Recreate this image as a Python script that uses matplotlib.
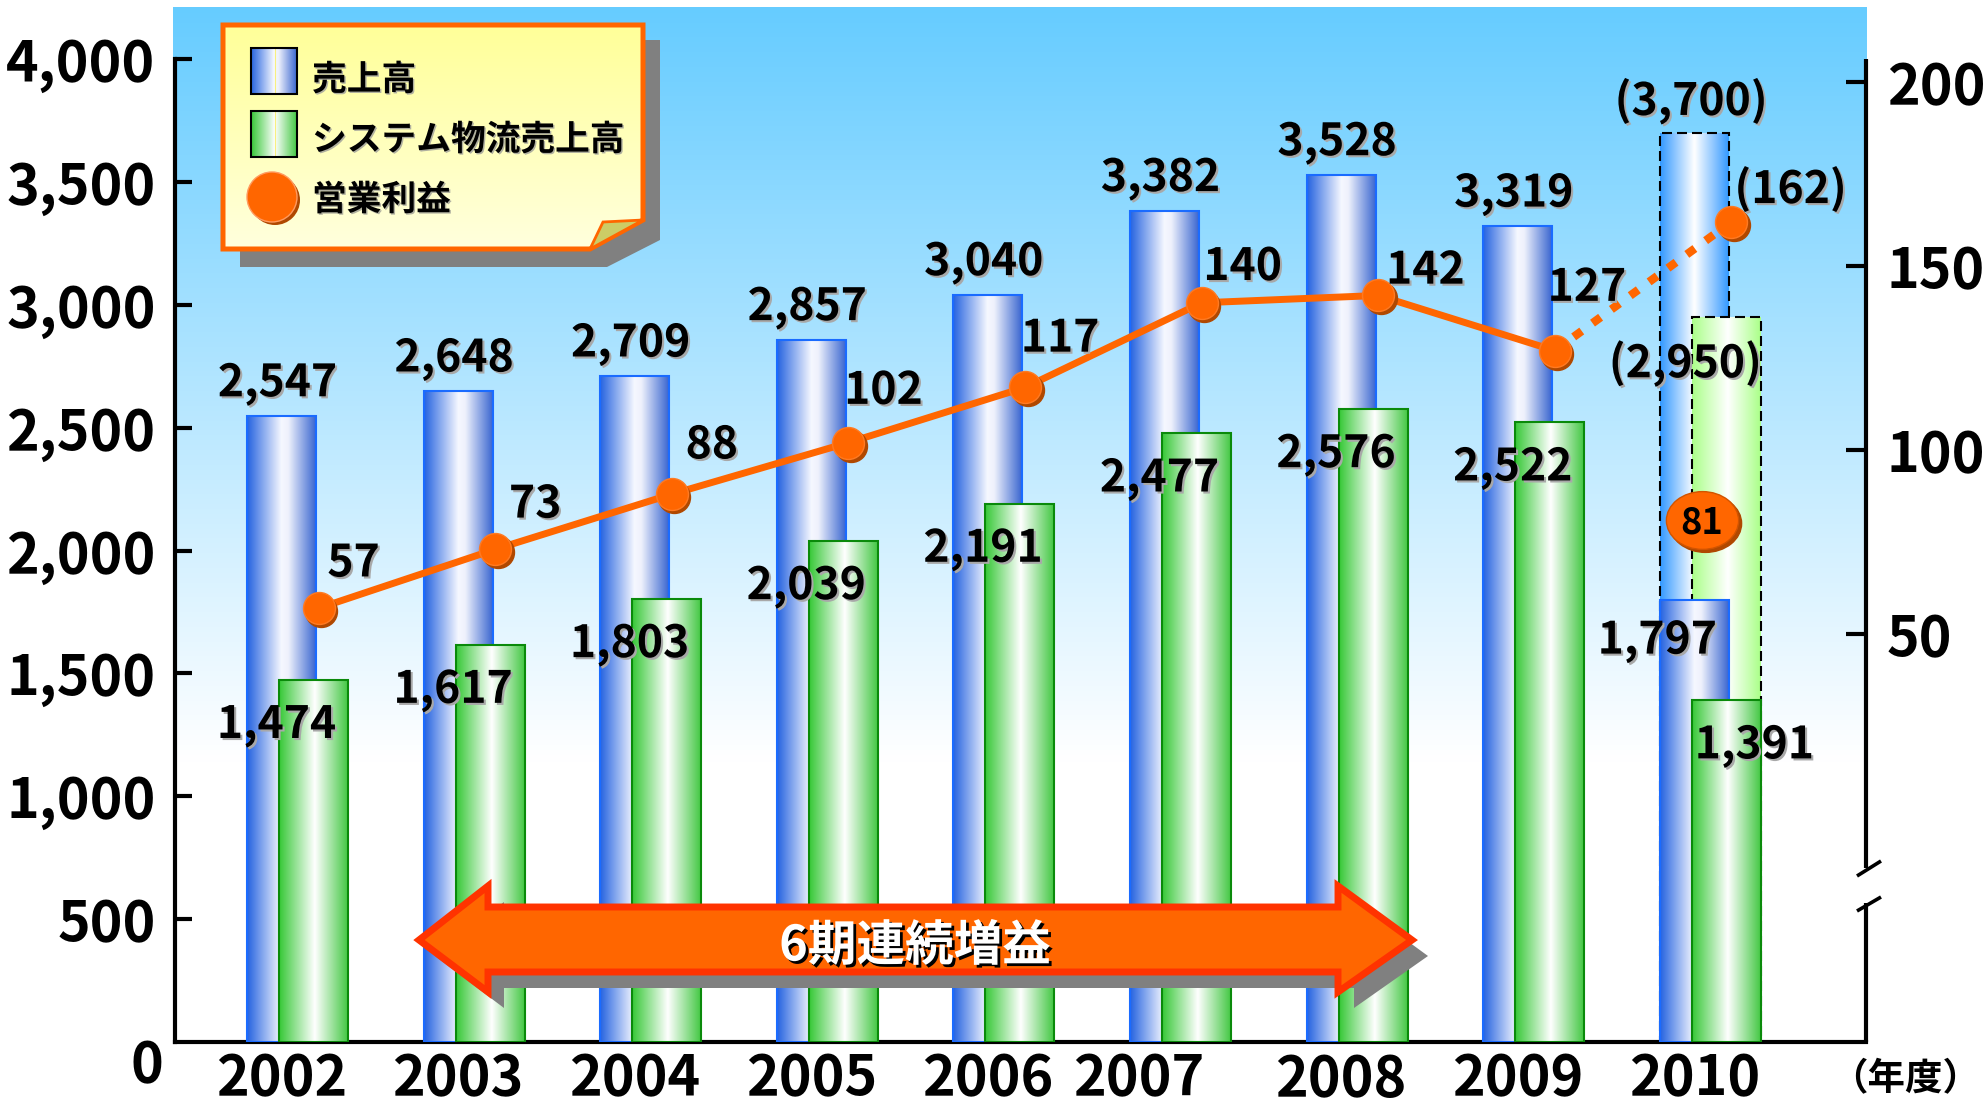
import numpy as np
import matplotlib
matplotlib.use('Agg')
import matplotlib.pyplot as plt
from matplotlib.patches import Rectangle, Polygon, Circle
from matplotlib.colors import LinearSegmentedColormap, to_rgb
from matplotlib.lines import Line2D
from matplotlib.path import Path
import matplotlib.patheffects as pe
import matplotlib.transforms as mtrans

plt.rcParams['font.family'] = ['Noto Sans CJK JP', 'DejaVu Sans']
plt.rcParams['font.weight'] = 'bold'

# ---------------- data ----------------
years = ['2002', '2003', '2004', '2005', '2006', '2007', '2008', '2009', '2010']
sales = [2547, 2648, 2709, 2857, 3040, 3382, 3528, 3319, 1797]
system_sales = [1474, 1617, 1803, 2039, 2191, 2477, 2576, 2522, 1391]
profit = [57, 73, 88, 102, 117, 140, 142, 127]          # 2002-2009
forecast_year = '2010'
sales_forecast = 3700
system_forecast = 2950
profit_forecast = 162
profit_interim = 81
left_ticks = [500, 1000, 1500, 2000, 2500, 3000, 3500, 4000]
right_ticks = [50, 100, 150, 200]
legend_labels = ['売上高', 'システム物流売上高', '営業利益']
arrow_label = '6期連続増益'
unit_label = '（年度）'

# label offsets (pixels, centre of text relative to the point)
profit_label_offsets = [(35, 48), (40, 48), (40, 52), (35, 55), (35, 52),
                        (41, 39), (47, 28), (32, 66)]

# ---------------- figure ----------------
W, H, DPI = 1986, 1104, 100
fig = plt.figure(figsize=(W / DPI, H / DPI), dpi=DPI)
fig.patch.set_facecolor('white')
AX_L, AX_R, AX_T, AX_B = 175, 1866, 59, 1042

# background gradient panel
bg = fig.add_axes([0, 0, 1, 1], zorder=0)
top_c = np.array(to_rgb('#66CCFF'))
ys = np.linspace(7, AX_B, 500)
t = np.clip((ys - 7) / (760 - 7), 0, 1)[:, None]
cols = top_c * (1 - t) + t
bg.imshow(cols[:, None, :], extent=(173, AX_R + 1, AX_B, 7), aspect='auto',
          interpolation='bilinear', origin='upper')
bg.set_xlim(0, W); bg.set_ylim(H, 0); bg.axis('off')

ax = fig.add_axes([AX_L / W, 1 - AX_B / H, (AX_R - AX_L) / W, (AX_B - AX_T) / H], zorder=1)
ax.patch.set_visible(False)

idx = np.arange(len(years))
fi = years.index(forecast_year)
BW = 0.39
GOFF = 0.181

BLUE = [(0, '#2563E0'), (0.5, '#F6F8FF'), (0.6, '#EEF1FC'), (1, '#3A66D0')]
GREEN = [(0, '#36C836'), (0.52, '#FFFFFF'), (1, '#44C844')]
BLUE_L = [(0, '#3399FF'), (0.5, '#FFFFFF'), (1, '#3399FF')]
GREEN_L = [(0, '#AAFF88'), (0.52, '#FFFFFF'), (1, '#AAFF88')]


def grad_fill(axis, patch, stops, z):
    bb = patch.get_bbox()
    cmap = LinearSegmentedColormap.from_list('g', stops)
    im = axis.imshow(np.linspace(0, 1, 256)[None, :], cmap=cmap,
                     extent=(bb.x0, bb.x1, bb.y0, bb.y1), aspect='auto',
                     origin='lower', interpolation='bilinear', zorder=z)
    im.set_clip_path(patch)
    patch.set_facecolor('none')
    patch.set_zorder(z + 0.01)


dash = (0, (4.8, 2.4))
fb = ax.bar(idx[fi], sales_forecast, width=BW, edgecolor='black', linewidth=1.5, linestyle=dash)
for p in fb:
    grad_fill(ax, p, BLUE_L, 2)
fg = ax.bar(idx[fi] + GOFF, system_forecast, width=BW, edgecolor='black', linewidth=1.5, linestyle=dash)
for p in fg:
    grad_fill(ax, p, GREEN_L, 2.5)
bb_ = ax.bar(idx, sales, width=BW, edgecolor='#1A6BFF', linewidth=1.5)
for p in bb_:
    grad_fill(ax, p, BLUE, 3)
gb_ = ax.bar(idx + GOFF, system_sales, width=BW, edgecolor='#0A8A0A', linewidth=1.5)
for p in gb_:
    grad_fill(ax, p, GREEN, 4)

ax.set_xlim(-0.603, 8.972)
ax.set_ylim(0, 4000)

shadow_fx = [pe.SimplePatchShadow(offset=(1.5, -1.5), shadow_rgbFace='#A8A8A8', alpha=1), pe.Normal()]


def label(axis, x, y, s, dx, dy, size=32, color='black', fx=shadow_fx, z=8, xycoords='data'):
    em = size * DPI / 72
    tt = axis.annotate(s, xy=(x, y), xycoords=xycoords, xytext=(dx, dy - 0.365 * em),
                       textcoords='offset pixels', ha='center', va='baseline',
                       fontsize=size, color=color, zorder=z, annotation_clip=False)
    if fx:
        tt.set_path_effects(fx)
    return tt


for i in idx:
    if i == fi:
        continue
    label(ax, idx[i], sales[i], f'{sales[i]:,}', -4, 36)
    label(ax, idx[i], system_sales[i], f'{system_sales[i]:,}', -5, -42)
label(ax, idx[fi], sales_forecast, f'({sales_forecast:,})', -3, 34)
label(ax, idx[fi], system_forecast, f'({system_forecast:,})', -9, -44)
label(ax, idx[fi], sales[fi], f'{sales[fi]:,}', -37, -37)
label(ax, idx[fi] + GOFF, system_sales[fi], f'{system_sales[fi]:,}', 28, -42)

# axes styling (left)
ax.set_yticks(left_ticks)
ax.set_yticklabels([f'{v:,}' for v in left_ticks])
ax.tick_params(axis='y', direction='in', length=12, width=3, labelsize=40, pad=14)
ax.set_xticks(idx)
ax.set_xticklabels(years)
ax.tick_params(axis='x', length=0, labelsize=40, pad=7)
lab7 = ax.get_xticklabels()[5]
lab7.set_transform(lab7.get_transform() + mtrans.Affine2D().translate(-26, 0))
for s in ['top', 'right']:
    ax.spines[s].set_visible(False)
for s in ['left', 'bottom']:
    ax.spines[s].set_linewidth(3)
label(ax, 0, 0, '0', -28, -20, size=40, fx=None, xycoords=ax.get_yaxis_transform())
ax.text((1905 - AX_L) / (AX_R - AX_L), (AX_B - 1079) / (AX_B - AX_T), unit_label,
        transform=ax.transAxes, ha='center', va='center', fontsize=27)

# ---------------- profit (right axis) ----------------
ax2 = ax.twinx()
ax2.set_zorder(2)
ax2.patch.set_visible(False)
ax2.set_ylim(-60.87, 206.25)
for s in ax2.spines.values():
    s.set_visible(False)
ax2.set_yticks(right_ticks)
ax2.tick_params(axis='y', direction='in', length=14.4, width=3, labelsize=40, pad=15)

PX = 0.21
px = idx[:len(profit)] + PX
ax2.plot(px, profit, color='#FF6600', lw=5, zorder=3, solid_capstyle='round')
ax2.plot([px[-1], idx[fi] + PX], [profit[-1], profit_forecast], color='#FF6600', lw=6,
         linestyle=(0, (1.2, 1.6)), dash_capstyle='butt', zorder=3)
shadow_tr = mtrans.offset_copy(ax2.transData, fig=fig, x=2.5, y=-3, units='dots')
allx = list(px) + [idx[fi] + PX]
ally = profit + [profit_forecast]
ax2.plot(allx, ally, 'o', ms=23, color='#B04800', transform=shadow_tr, zorder=4)
ax2.plot(allx, ally, 'o', ms=23, color='#FF6600', mec='#FF7A22', mew=1, zorder=5)

ell = Path.unit_circle().transformed(mtrans.Affine2D().scale(1, 0.8))
ax2.plot([idx[fi] + 0.044], [profit_interim], marker=ell, ms=52, color='#B04800',
         transform=shadow_tr, ls='none', zorder=4)
ax2.plot([idx[fi] + 0.044], [profit_interim], marker=ell, ms=52, mfc='#FF6600',
         mec='#D25400', mew=1, ls='none', zorder=5)
label(ax2, idx[fi] + 0.044, profit_interim, f'{profit_interim}', 0, 0, size=26, fx=None, z=9)

for i, v in enumerate(profit):
    dx, dy = profit_label_offsets[i]
    label(ax2, px[i], v, f'{v}', dx, dy)
label(ax2, idx[fi] + PX, profit_forecast, f'({profit_forecast})', 59, 35)

# broken right spine
def fy(ypix):
    return (AX_B - ypix) / (AX_B - AX_T)


wx = AX_R - AX_L
for y0, y1 in [(fy(868), 1.0), (0.0, fy(903))]:
    ax2.add_line(Line2D([1, 1], [y0, y1], transform=ax2.transAxes, color='black',
                        lw=3, clip_on=False, solid_capstyle='butt'))
for (ya, yb) in [(876, 861), (911, 897)]:
    ax2.add_line(Line2D([1 - 9 / wx, 1 + 15 / wx], [fy(ya), fy(yb)],
                        transform=ax2.transAxes, color='black', lw=2.6, clip_on=False,
                        solid_capstyle='butt'))

# ---------------- overlay: arrow + legend ----------------
ov = fig.add_axes([0, 0, 1, 1], zorder=3)
ov.patch.set_visible(False)

arrow_pts = np.array([(419, 940), (488, 886), (488, 907), (1338, 907), (1338, 886),
                      (1412, 940), (1338, 992), (1338, 972), (488, 972), (488, 992)])
ov.add_patch(Polygon(arrow_pts + [16, 16], closed=True, facecolor='#808080', edgecolor='none',
                     zorder=0.3))
ov.add_patch(Polygon(arrow_pts, closed=True, facecolor='#FF6600', edgecolor='#FF3300',
                     lw=5, joinstyle='miter', zorder=0.4))
em = 35 * DPI / 72
ov.text(915, 942 + 0.38 * em, arrow_label, ha='center', va='baseline', fontsize=35,
        color='white', zorder=0.5,
        path_effects=[pe.SimplePatchShadow(offset=(2, -2), shadow_rgbFace='black', alpha=1),
                      pe.Normal()])

# legend box
ov.add_patch(Polygon([(240, 40), (660, 40), (660, 240), (607, 267), (240, 267)],
                     closed=True, facecolor='#808080', edgecolor='none', zorder=0.6))
box = Polygon([(223, 25), (643, 25), (643, 220), (590, 249), (223, 249)], closed=True,
              facecolor='none', edgecolor='#FF6600', lw=3.6, joinstyle='miter', zorder=1)
ov.add_patch(box)
ycol = LinearSegmentedColormap.from_list('y', ['#FFFF99', '#FFFFDD'])
imb = ov.imshow(np.linspace(0, 1, 100)[:, None], cmap=ycol, extent=(223, 643, 249, 25),
                aspect='auto', origin='upper', zorder=0.8)
imb.set_clip_path(box)
ov.add_patch(Polygon([(590, 249), (603, 222), (643, 220)], closed=True,
                     facecolor='#CCCC66', edgecolor='#FF6600', lw=2, zorder=1.1))

for (y0, stops) in [(48, BLUE), (111, GREEN)]:
    r = Rectangle((251, y0), 46, 46, facecolor='none', edgecolor='black', lw=1.5, zorder=2)
    ov.add_patch(r)
    cm = LinearSegmentedColormap.from_list('s', stops)
    ims = ov.imshow(np.linspace(0, 1, 256)[None, :], cmap=cm, extent=(251, 297, y0 + 46, y0),
                    aspect='auto', origin='upper', zorder=1.5, interpolation='bilinear')
    ims.set_clip_path(r)
    ov.add_line(Line2D([275, 275], [y0 + 1, y0 + 45], color='#F8F080', lw=0.8, zorder=1.6))
ov.add_patch(Circle((275, 200), 25, facecolor='#B04800', edgecolor='none', zorder=2))
ov.add_patch(Circle((272, 197), 25, facecolor='#FF6600', edgecolor='#FF9A60', lw=1, zorder=2.1))

lem = 25 * DPI / 72
for yc, txt in zip([77, 137, 197], legend_labels):
    ov.text(312, yc + 0.38 * lem, txt, ha='left', va='baseline', fontsize=25, color='black',
            zorder=3, path_effects=[pe.SimplePatchShadow(offset=(1, -1), shadow_rgbFace='#B0B0A0', alpha=1),
                                    pe.Normal()])
ov.set_xlim(0, W); ov.set_ylim(H, 0); ov.axis('off')

fig.savefig('out.png', dpi=DPI)
